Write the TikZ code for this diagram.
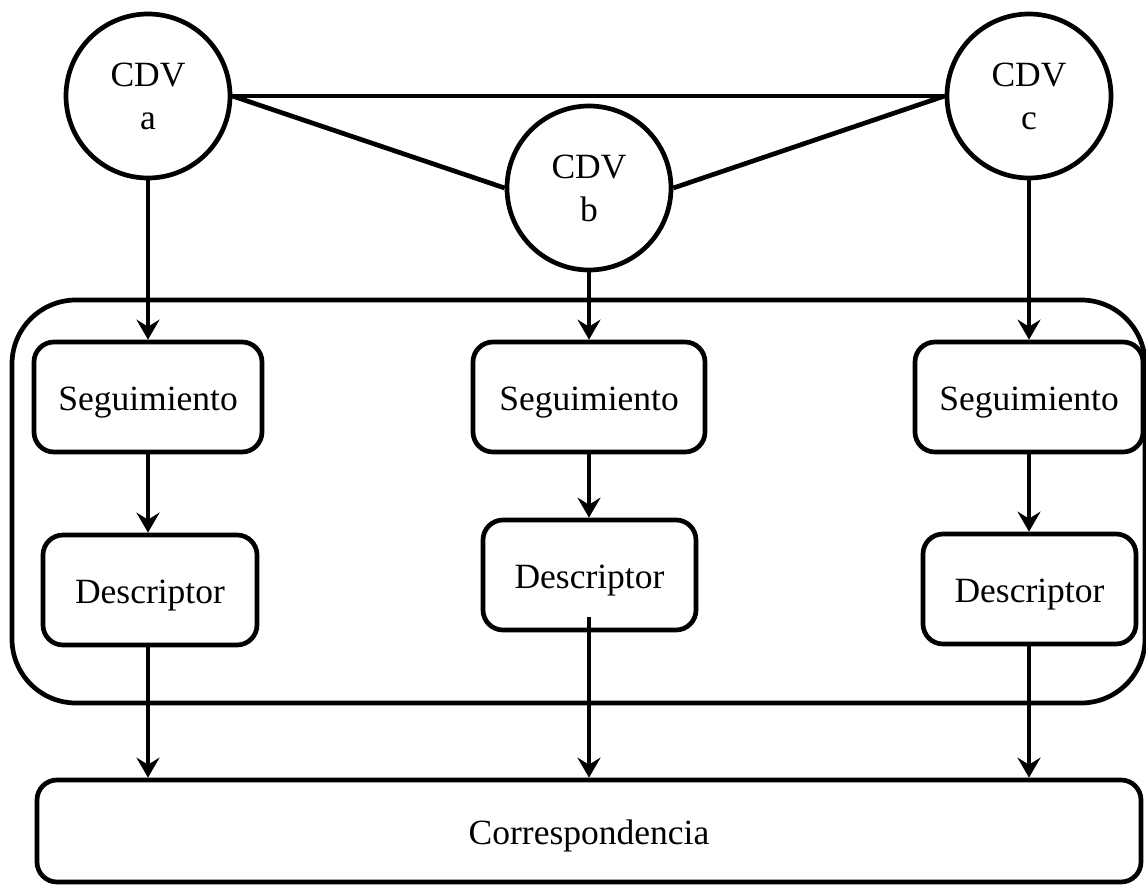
\documentclass[tikz,border=0pt]{standalone}
\usepackage{fontspec}
\setmainfont{Liberation Serif}
\usetikzlibrary{arrows.meta}
\begin{document}
\begin{tikzpicture}[x=1pt,y=-1pt,
  every node/.style={font=\fontsize{35.5}{43}\selectfont},
  wire/.style={line width=4.7pt},
  flow/.style={wire,-{Stealth[length=20pt,width=23pt,inset=7pt]}},
  cdv/.style={draw,line width=4.7pt,circle,minimum size=164pt,inner sep=0pt,align=center},
  stage/.style={draw,line width=4.7pt,rounded corners=20pt,inner sep=0pt,minimum height=110pt,
    text height=30pt,text depth=4pt},
  group/.style={draw,line width=4.7pt,rounded corners=64pt,inner sep=0pt},
]
\useasboundingbox (0,0) rectangle (1146,885);

% processing group that holds the tracking and descriptor stages
\node[group,minimum width=1133pt,minimum height=403pt] (grp) at (578.5,501.5) {};

% camera nodes
\node[cdv] (ca) at (148,96) {CDV\\a};
\node[cdv] (cb) at (589,188) {CDV\\b};
\node[cdv] (cc) at (1029,96) {CDV\\c};

% tracking stages
\node[stage,minimum width=228pt] (sa) at (148,397) {Seguimiento};
\node[stage,minimum width=232pt] (sb) at (589,397) {Seguimiento};
\node[stage,minimum width=228pt] (sc) at (1029,397) {Seguimiento};

% descriptor stages
\node[stage,minimum width=214pt] (da) at (150,590) {Descriptor};
\node[stage,minimum width=213pt] (db) at (589.5,575) {Descriptor};
\node[stage,minimum width=213pt] (dc) at (1029.5,589) {Descriptor};

% matching stage
\node[stage,minimum width=1104pt,minimum height=102pt] (corr) at (589,831) {Correspondencia};

% links between the cameras
\draw[wire] (ca.east) -- (cc.west);
\draw[wire] (ca.east) -- (cb.west);
\draw[wire] (cb.east) -- (cc.west);

% camera to tracking
\draw[flow] (ca.south) -- (ca.south |- sa.north);
\draw[flow] (cb.south) -- (cb.south |- sb.north);
\draw[flow] (cc.south) -- (cc.south |- sc.north);

% tracking to descriptor
\draw[flow] (sa.south) -- (sa.south |- da.north);
\draw[flow] (sb.south) -- (sb.south |- db.north);
\draw[flow] (sc.south) -- (sc.south |- dc.north);

% descriptor to matching
\coordinate (dbout) at (589,617);
\draw[flow] (sa.south |- da.south) -- (sa.south |- corr.north);
\draw[flow] (dbout) -- (dbout |- corr.north);
\draw[flow] (sc.south |- dc.south) -- (sc.south |- corr.north);
\end{tikzpicture}
\end{document}
